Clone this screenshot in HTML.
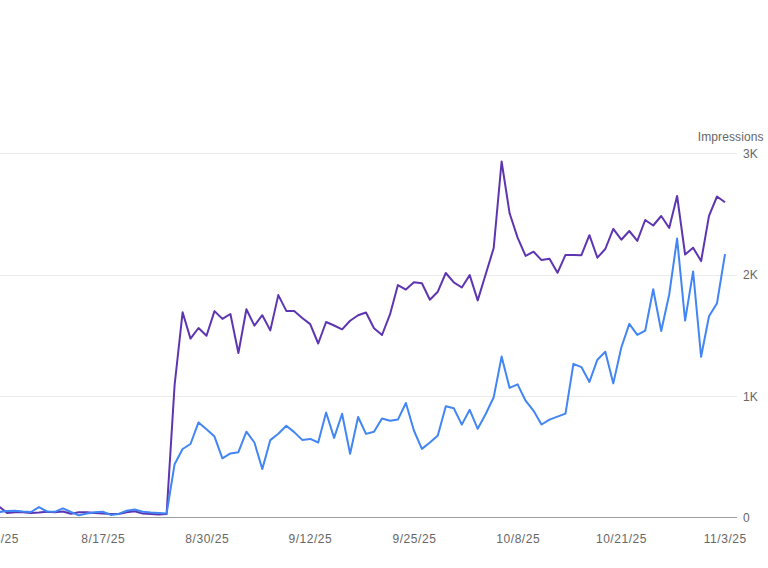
<!DOCTYPE html>
<html><head><meta charset="utf-8"><style>
html,body{margin:0;padding:0;background:#fff;width:768px;height:568px;overflow:hidden}
svg{display:block}
text{font-family:"Liberation Sans",sans-serif;font-size:12px;fill:#666}
.xl{letter-spacing:0.55px}
</style></head><body>
<svg width="768" height="568" viewBox="0 0 768 568">
<line x1="0" y1="153.5" x2="737" y2="153.5" stroke="#ebebeb" stroke-width="1"/>
<line x1="0" y1="275.5" x2="737" y2="275.5" stroke="#ebebeb" stroke-width="1"/>
<line x1="0" y1="396.5" x2="737" y2="396.5" stroke="#ebebeb" stroke-width="1"/>
<line x1="0" y1="517.5" x2="737" y2="517.5" stroke="#9e9e9e" stroke-width="1"/>
<path d="M-8.9,504.5 L-0.9,506.6 L7.1,512.9 L15.0,512.2 L23.0,512.3 L31.0,513.0 L39.0,512.6 L47.0,511.8 L54.9,512.3 L62.9,511.5 L70.9,513.8 L78.9,512.2 L86.8,512.2 L94.8,513.0 L102.8,513.6 L110.8,513.9 L118.7,513.9 L126.7,512.3 L134.7,511.3 L142.7,513.6 L150.7,513.9 L158.6,514.5 L166.6,513.9 L174.6,385.0 L182.6,312.3 L190.5,338.6 L198.5,328.0 L206.5,335.8 L214.5,311.1 L222.4,318.9 L230.4,314.0 L238.4,353.0 L246.4,309.3 L254.4,325.6 L262.3,315.2 L270.3,330.4 L278.3,295.1 L286.3,310.9 L294.2,310.9 L302.2,318.0 L310.2,324.1 L318.2,343.5 L326.1,322.0 L334.1,325.5 L342.1,329.4 L350.1,320.7 L358.1,315.2 L366.0,312.5 L374.0,328.3 L382.0,335.0 L390.0,314.4 L397.9,285.1 L405.9,289.6 L413.9,282.3 L421.9,283.2 L429.9,299.7 L437.8,291.7 L445.8,273.0 L453.8,282.4 L461.8,287.5 L469.7,275.1 L477.7,300.4 L485.7,274.3 L493.7,248.0 L501.6,161.5 L509.6,213.3 L517.6,237.6 L525.6,255.9 L533.6,251.7 L541.5,260.1 L549.5,258.8 L557.5,272.8 L565.5,254.9 L573.4,254.9 L581.4,255.2 L589.4,235.2 L597.4,257.7 L605.3,249.0 L613.3,228.9 L621.3,239.7 L629.3,231.0 L637.3,240.9 L645.2,220.0 L653.2,225.5 L661.2,216.0 L669.2,228.0 L677.1,195.9 L685.1,254.5 L693.1,247.7 L701.1,261.1 L709.0,215.8 L717.0,196.5 L725.0,202.3" fill="none" stroke="#5e35b1" stroke-width="2" stroke-linejoin="round" stroke-linecap="butt"/>
<path d="M-8.9,513.0 L-0.9,512.0 L7.1,510.9 L15.0,510.7 L23.0,511.5 L31.0,512.0 L39.0,507.1 L47.0,511.5 L54.9,511.8 L62.9,508.3 L70.9,512.0 L78.9,515.3 L86.8,513.6 L94.8,512.3 L102.8,511.7 L110.8,514.9 L118.7,513.9 L126.7,510.8 L134.7,509.5 L142.7,511.7 L150.7,512.6 L158.6,513.0 L166.6,513.6 L174.6,464.2 L182.6,449.0 L190.5,444.0 L198.5,422.4 L206.5,429.3 L214.5,436.6 L222.4,458.3 L230.4,453.4 L238.4,452.2 L246.4,431.7 L254.4,442.5 L262.3,469.0 L270.3,440.1 L278.3,433.8 L286.3,425.8 L294.2,432.1 L302.2,439.9 L310.2,438.9 L318.2,442.5 L326.1,412.5 L334.1,437.9 L342.1,413.7 L350.1,453.7 L358.1,417.0 L366.0,433.9 L374.0,431.7 L382.0,418.5 L390.0,420.7 L397.9,419.6 L405.9,403.0 L413.9,430.5 L421.9,448.9 L429.9,442.5 L437.8,435.6 L445.8,406.2 L453.8,408.3 L461.8,424.6 L469.7,409.8 L477.7,428.8 L485.7,414.0 L493.7,397.3 L501.6,356.6 L509.6,387.9 L517.6,384.4 L525.6,400.7 L533.6,410.8 L541.5,424.5 L549.5,419.6 L557.5,416.6 L565.5,413.6 L573.4,363.8 L581.4,367.1 L589.4,381.9 L597.4,359.7 L605.3,351.7 L613.3,383.4 L621.3,347.5 L629.3,323.9 L637.3,334.9 L645.2,330.7 L653.2,289.3 L661.2,331.0 L669.2,294.5 L677.1,238.6 L685.1,320.6 L693.1,271.4 L701.1,356.8 L709.0,316.2 L717.0,303.2 L725.0,254.1" fill="none" stroke="#4285f4" stroke-width="2" stroke-linejoin="round" stroke-linecap="butt"/>
<text x="0.67" y="543" text-anchor="middle" class="xl">8/4/25</text>
<text x="103.17" y="543" text-anchor="middle" class="xl">8/17/25</text>
<text x="207.27" y="543" text-anchor="middle" class="xl">8/30/25</text>
<text x="310.37" y="543" text-anchor="middle" class="xl">9/12/25</text>
<text x="414.47" y="543" text-anchor="middle" class="xl">9/25/25</text>
<text x="518.27" y="543" text-anchor="middle" class="xl">10/8/25</text>
<text x="621.47" y="543" text-anchor="middle" class="xl">10/21/25</text>
<text x="725.27" y="543" text-anchor="middle" class="xl">11/3/25</text>
<text x="743" y="157.8" class="yl">3K</text>
<text x="743" y="278.8" class="yl">2K</text>
<text x="743" y="400.8" class="yl">1K</text>
<text x="743" y="521.8" class="yl">0</text>
<text x="763.6" y="140.7" text-anchor="end" class="yl" style="letter-spacing:0.1px">Impressions</text>
</svg>
</body></html>
